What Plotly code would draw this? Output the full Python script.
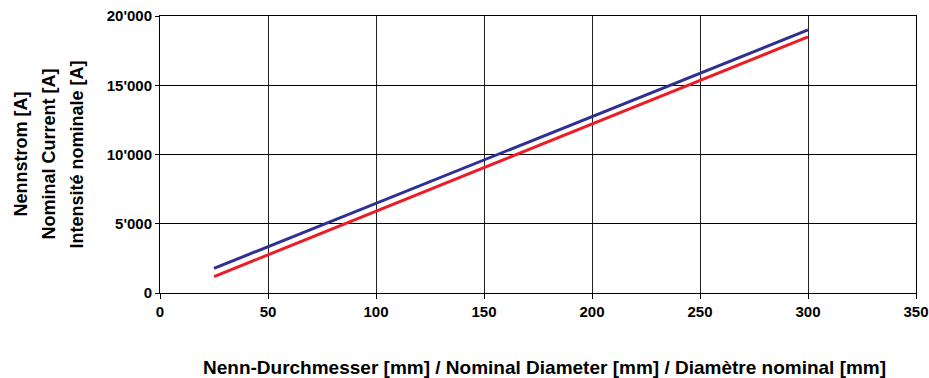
import plotly.graph_objects as go

diameter = [25, 300]
current_blue = [1780, 19000]
current_red = [1180, 18500]

x_ticks = [0, 50, 100, 150, 200, 250, 300, 350]
y_ticks = [0, 5000, 10000, 15000, 20000]
y_ticklabels = ["0", "5'000", "10'000", "15'000", "20'000"]

fig = go.Figure()
fig.add_trace(go.Scatter(x=diameter, y=current_blue, mode="lines",
                         line=dict(color="#2E3192", width=3), showlegend=False))
fig.add_trace(go.Scatter(x=diameter, y=current_red, mode="lines",
                         line=dict(color="#ED1C24", width=3), showlegend=False))

tickfont = dict(family="Liberation Sans, Arial, sans-serif", size=15, color="black")

fig.update_layout(
    width=929, height=378,
    margin=dict(l=160, r=13, t=16, b=85, autoexpand=False),
    paper_bgcolor="white", plot_bgcolor="white",
    xaxis=dict(range=[0, 350], tickvals=x_ticks, ticktext=[f"<b>{v}</b>" for v in x_ticks],
               showgrid=True, gridcolor="#222", gridwidth=1,
               showline=True, linecolor="black", linewidth=1, mirror=True,
               ticks="outside", ticklen=5, tickcolor="black",
               tickfont=tickfont, zeroline=False, automargin=False),
    yaxis=dict(range=[0, 20000], tickvals=y_ticks, ticktext=[f"<b>{t}</b>" for t in y_ticklabels],
               showgrid=True, gridcolor="black", gridwidth=1,
               showline=True, linecolor="black", linewidth=1, mirror=True,
               ticks="outside", ticklen=4, tickcolor="black",
               tickfont=tickfont, zeroline=False, automargin=False),
)

fig.add_annotation(text="<b>Nenn-Durchmesser [mm] / Nominal Diameter [mm] / Diamètre nominal [mm]</b>",
                   xref="paper", yref="paper", x=0, y=0, xanchor="center", yanchor="middle",
                   xshift=544 - 160, yshift=-(367 - 293), showarrow=False,
                   font=dict(family="Liberation Sans, Arial, sans-serif", size=19, color="black"))

ytitle_lines = ["Nennstrom [A]", "Nominal Current [A]", "Intensité nominale [A]"]
ytitle_x = [20, 48, 76]
for txt, px in zip(ytitle_lines, ytitle_x):
    fig.add_annotation(text=f"<b>{txt}</b>", xref="paper", yref="paper",
                       x=0, y=0.5, xanchor="center", yanchor="middle",
                       xshift=px - 160, textangle=-90, showarrow=False,
                       font=dict(family="Liberation Sans, Arial, sans-serif", size=18, color="black"))

fig.write_html("out.html", config={"displayModeBar": False},
               post_script="document.body.style.margin='0';document.body.style.overflow='hidden';")
